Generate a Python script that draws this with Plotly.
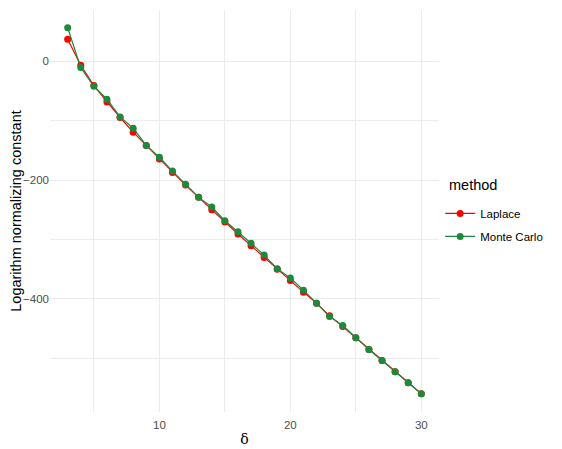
import plotly.graph_objects as go

delta = list(range(3, 31))
laplace = [37, -6.7, -40.8, -68.4, -94.6, -119.3, -141.7, -164.7, -187.1, -208.4,
           -229.1, -249.9, -270.6, -290.8, -310.4, -330.3, -350.1, -369.2, -388.7,
           -407.2, -428.6, -446.5, -465.5, -485.2, -503.7, -522.7, -541.2, -559.7]
monte_carlo = [56.6, -10.6, -42.0, -63.9, -93.6, -112.6, -141.7, -161.5, -184.9, -207.2,
               -229.1, -245.4, -268.4, -286.9, -306.4, -326.3, -349.1, -364.7, -385.4,
               -407.2, -429.7, -444.9, -465.5, -485.2, -503.7, -522.7, -541.2, -559.7]
methods = ["Laplace", "Monte Carlo"]
colors = ["#FF0000", "#1B8A3C"]

fig = go.Figure()
for name, vals, col in zip(methods, [laplace, monte_carlo], colors):
    fig.add_trace(go.Scatter(
        x=delta, y=vals, mode="lines+markers", name=name, legendgroup=name,
        line=dict(color=col, width=1.2),
        marker=dict(color=col, size=7),
    ))

grid = "#EBEBEB"
fig.update_layout(
    width=554, height=441,
    margin=dict(l=42, r=123, t=2, b=37),
    plot_bgcolor="white", paper_bgcolor="white",
    font=dict(family="Liberation Sans, Arial, sans-serif", size=12, color="#4D4D4D"),
    showlegend=True,
    legend=dict(
        x=1.003, xanchor="left", y=0.53, yanchor="top",
        font=dict(size=11.5, color="black"),
        bgcolor="rgba(0,0,0,0)", tracegroupgap=4,
    ),
    annotations=[dict(
        text="method", xref="paper", yref="paper", x=1.0216, y=0.5644,
        xanchor="left", yanchor="middle", showarrow=False,
        font=dict(size=14.5, color="black"),
    )],
    xaxis=dict(
        range=[1.65, 31.35], tickvals=[10, 20, 30], showgrid=True, gridcolor=grid, gridwidth=1.1,
        zeroline=False, showline=False, ticks="", automargin=False, ticklabelstandoff=4,
        minor=dict(tickvals=[5, 15, 25], showgrid=True, gridcolor=grid, gridwidth=0.6),
        title=dict(text="δ", font=dict(family="DejaVu Serif, serif", size=14, color="black"), standoff=4),
        tickfont=dict(size=11.5, color="#4D4D4D"),
    ),
    yaxis=dict(
        range=[-590.5, 86.4], tickvals=[0, -200, -400], showgrid=True, gridcolor=grid, gridwidth=1.1,
        zeroline=False, showline=False, ticks="", automargin=False,
        minor=dict(tickvals=[-100, -300, -500], showgrid=True, gridcolor=grid, gridwidth=0.6),
        title=dict(text="Logarithm normalizing constant", font=dict(size=14.5, color="black"), standoff=4),
        tickfont=dict(size=11.5, color="#4D4D4D"),
    ),
)
fig.write_html("out.html")
